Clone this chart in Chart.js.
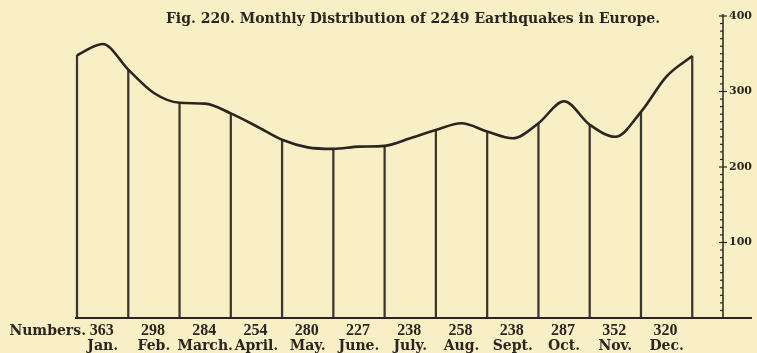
<!DOCTYPE html>
<html lang="en">
  <head>
    <meta charset="UTF-8" />
    <title>Fig. 220. Monthly Distribution of 2249 Earthquakes in Europe</title>
    <script src="https://cdn.jsdelivr.net/npm/chart.js"></script>
    <style>
      body {
        margin: 0;
        background: #f8efc4;
      }
      .figure {
        position: relative;
        width: 757px;
        height: 353px;
      }
    </style>
  </head>
  <body>
    <div class="figure"><canvas id="quakeChart"></canvas></div>

    <script>
      const months = ["Jan.", "Feb.", "March.", "April.", "May.", "June.", "July.", "Aug.", "Sept.", "Oct.", "Nov.", "Dec."];
      // figures printed under each month
      const printedNumbers = [363, 298, 284, 254, 280, 227, 238, 258, 238, 287, 352, 320];
      // curve height in the middle of each month (May and Nov follow the drawn curve, not the printed figure)
      const monthCurve = [363, 298, 284, 254, 226, 227, 238, 258, 238, 287, 240, 320];
      // curve height on the month dividers, from the start of Jan to the end of Dec
      const dividers = [348, 329, 285, 271, 236, 224, 228, 249, 247, 258, 256, 273, 347];
      const axisTicks = [100, 200, 300, 400];

      const INK = "#2a2521";
      const AXIS_X = 12.6; // where the scale bar stands, in month units

      // one point per divider plus one per month middle
      const curvePoints = [];
      dividers.forEach((v, i) => {
        curvePoints.push({ x: i, y: v });
        if (i < monthCurve.length) curvePoints.push({ x: i + 0.5, y: monthCurve[i] });
      });
      const dividerBars = dividers.map((v, i) => ({ x: i, y: v }));

      const wordFont = "bold 14px 'DejaVu Serif'";
      const digitFont = "bold 16px 'Liberation Serif'";

      const figureText = {
        id: "figureText",
        afterDraw(chart) {
          const { ctx, scales } = chart;
          const xs = scales.x;
          const ys = scales.y;
          const base = ys.getPixelForValue(0);
          const ax = xs.getPixelForValue(AXIS_X);
          ctx.save();
          ctx.strokeStyle = INK;
          ctx.fillStyle = INK;

          // base line
          ctx.lineWidth = 2;
          ctx.beginPath();
          ctx.moveTo(75, base);
          ctx.lineTo(752, base);
          ctx.stroke();

          // scale bar on the right
          ctx.lineWidth = 1.5;
          ctx.beginPath();
          ctx.moveTo(ax, base);
          ctx.lineTo(ax, ys.getPixelForValue(400) - 2);
          ctx.stroke();
          ctx.lineWidth = 1.2;
          for (let v = 10; v <= 400; v += 10) {
            const py = ys.getPixelForValue(v);
            const major = axisTicks.includes(v);
            ctx.beginPath();
            ctx.moveTo(ax - (major ? 4 : 3), py);
            ctx.lineTo(ax + (major ? 4 : 0), py);
            ctx.stroke();
          }
          ctx.font = "bold 11px 'DejaVu Serif'";
          ctx.textAlign = "left";
          ctx.textBaseline = "middle";
          axisTicks.forEach((v) => {
            ctx.fillText(String(v), ax + 6, ys.getPixelForValue(v));
          });

          // title
          ctx.font = "bold 14px 'DejaVu Serif'";
          ctx.textAlign = "center";
          ctx.textBaseline = "alphabetic";
          ctx.fillText("Fig. 220. Monthly Distribution of 2249 Earthquakes in Europe.", 413, 23);

          // month figures and names
          ctx.font = wordFont;
          ctx.textAlign = "right";
          ctx.fillText("Numbers.", 86, 335);
          ctx.textAlign = "center";
          months.forEach((m, i) => {
            const cx = xs.getPixelForValue(i + 0.5);
            ctx.font = digitFont;
            ctx.fillText(String(printedNumbers[i]), cx - 1, 335);
            ctx.font = wordFont;
            ctx.fillText(m, cx, 350);
          });
          ctx.restore();
        },
      };

      new Chart(document.getElementById("quakeChart"), {
        type: "line",
        data: {
          datasets: [
            {
              type: "line",
              data: curvePoints,
              borderColor: INK,
              borderWidth: 2.6,
              pointRadius: 0,
              cubicInterpolationMode: "monotone",
              fill: false,
              clip: false,
              order: 1,
            },
            {
              type: "bar",
              data: dividerBars,
              backgroundColor: "#3b3530",
              barThickness: 1.6,
              clip: false,
              order: 2,
            },
          ],
        },
        options: {
          responsive: true,
          maintainAspectRatio: false,
          animation: false,
          layout: { padding: { left: 77, right: 34, top: 16, bottom: 35 } },
          scales: {
            x: { type: "linear", min: 0, max: AXIS_X, offset: false, display: false },
            y: { min: 0, max: 400, display: false },
          },
          plugins: { legend: { display: false }, tooltip: { enabled: false } },
        },
        plugins: [figureText],
      });
    </script>
  </body>
</html>
